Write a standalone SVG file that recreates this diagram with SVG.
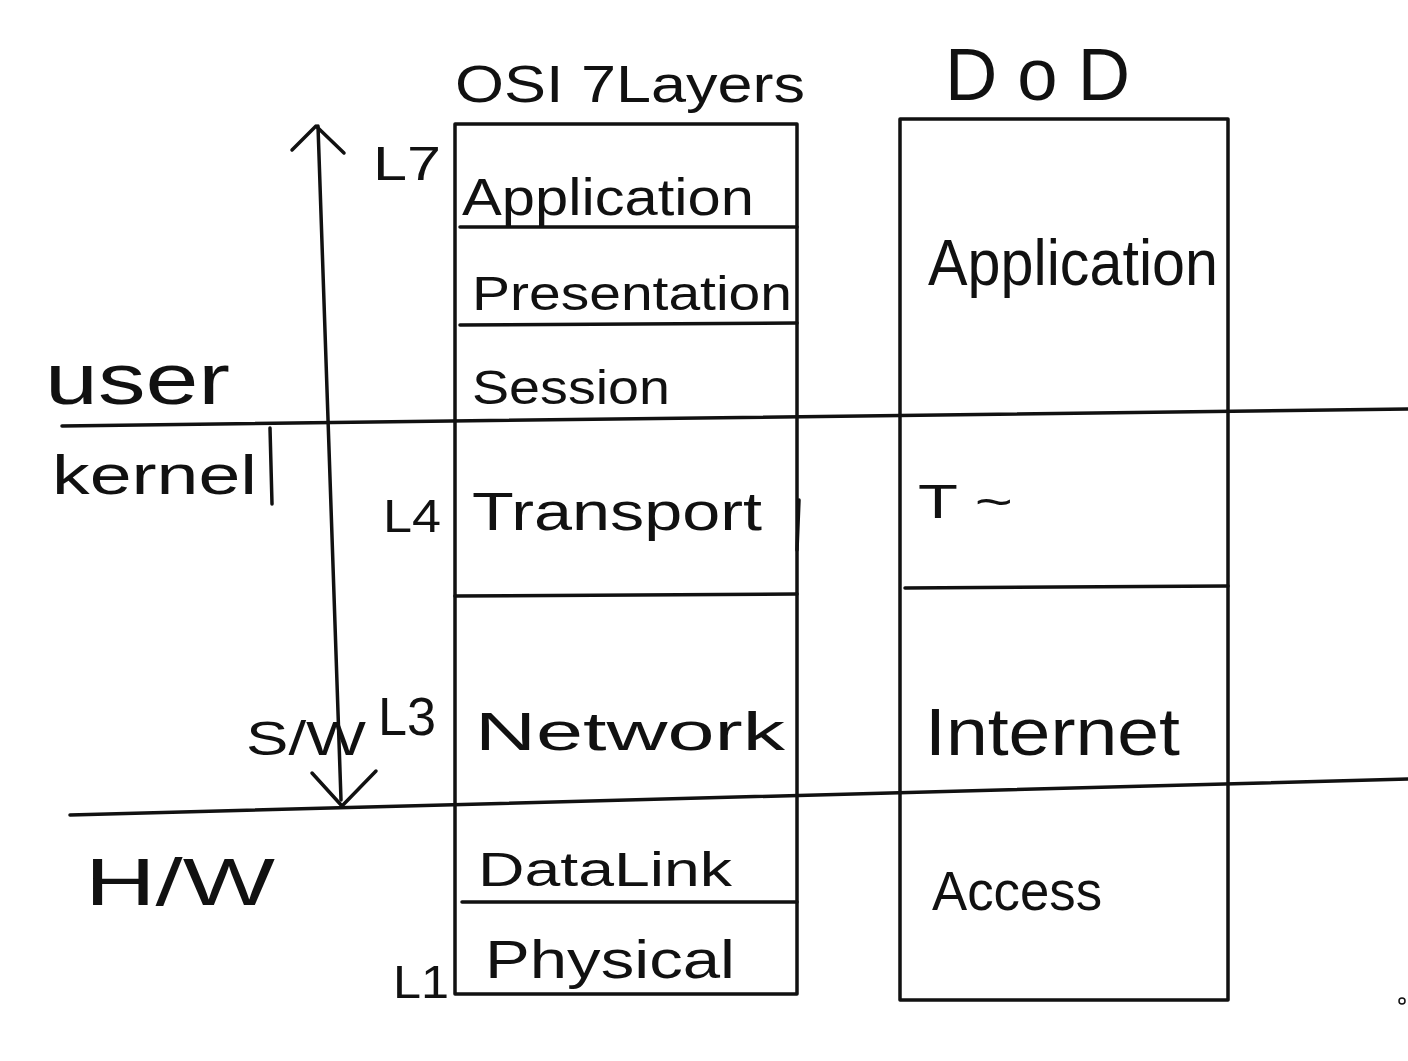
<svg xmlns="http://www.w3.org/2000/svg" width="1408" height="1061" viewBox="0 0 1408 1061">
<style>
.ln{stroke:#111;stroke-width:3.5;fill:none;stroke-linecap:round;stroke-linejoin:round}
.t{font-family:"Liberation Sans","DejaVu Sans",sans-serif;fill:#111}
</style>
<rect width="1408" height="1061" fill="#fff"/>
<g id="titles">
<text class="t" x="455" y="102" font-size="52" textLength="350" lengthAdjust="spacingAndGlyphs">OSI 7Layers</text>
<text class="t" x="945" y="100" font-size="74" textLength="185" lengthAdjust="spacingAndGlyphs">D o D</text>
</g>
<g id="osi">
<rect class="ln" x="455" y="124" width="342" height="870"/>
<line class="ln" x1="460" y1="227" x2="797" y2="227"/>
<line class="ln" x1="460" y1="325" x2="797" y2="323"/>
<line class="ln" x1="455" y1="596" x2="797" y2="594"/>
<line class="ln" x1="462" y1="902" x2="797" y2="902"/>
<line class="ln" x1="799" y1="500" x2="797" y2="550"/>
<text class="t" x="462" y="215" font-size="52" textLength="292" lengthAdjust="spacingAndGlyphs">Application</text>
<text class="t" x="472" y="310" font-size="48" textLength="320" lengthAdjust="spacingAndGlyphs">Presentation</text>
<text class="t" x="472" y="404" font-size="48" textLength="198" lengthAdjust="spacingAndGlyphs">Session</text>
<text class="t" x="472" y="530" font-size="54" textLength="290" lengthAdjust="spacingAndGlyphs">Transport</text>
<text class="t" x="475" y="750" font-size="54" textLength="310" lengthAdjust="spacingAndGlyphs">Network</text>
<text class="t" x="478" y="886" font-size="48" textLength="254" lengthAdjust="spacingAndGlyphs">DataLink</text>
<text class="t" x="485" y="978" font-size="54" textLength="250" lengthAdjust="spacingAndGlyphs">Physical</text>
<text class="t" x="373" y="180" font-size="48" textLength="68" lengthAdjust="spacingAndGlyphs">L7</text>
<text class="t" x="383" y="532" font-size="46" textLength="58" lengthAdjust="spacingAndGlyphs">L4</text>
<text class="t" x="378" y="735" font-size="54" textLength="58" lengthAdjust="spacingAndGlyphs">L3</text>
<text class="t" x="393" y="998" font-size="46" textLength="56" lengthAdjust="spacingAndGlyphs">L1</text>
</g>
<g id="dod">
<rect class="ln" x="900" y="119" width="328" height="881"/>
<line class="ln" x1="905" y1="588" x2="1228" y2="586"/>
<text class="t" x="928" y="285" font-size="64" textLength="290" lengthAdjust="spacingAndGlyphs">Application</text>
<text class="t" x="918" y="518" font-size="48" textLength="95" lengthAdjust="spacingAndGlyphs">T ~</text>
<text class="t" x="925" y="755" font-size="66" textLength="255" lengthAdjust="spacingAndGlyphs">Internet</text>
<text class="t" x="932" y="910" font-size="56" textLength="170" lengthAdjust="spacingAndGlyphs">Access</text>
</g>
<g id="domains">
<text class="t" x="45" y="404" font-size="72" textLength="185" lengthAdjust="spacingAndGlyphs">user</text>
<text class="t" x="52" y="494" font-size="56" textLength="205" lengthAdjust="spacingAndGlyphs">kernel</text>
<line class="ln" x1="270" y1="428" x2="272" y2="504"/>
<text class="t" x="85" y="905" font-size="66" textLength="190" lengthAdjust="spacingAndGlyphs">H/W</text>
<text class="t" x="246" y="755" font-size="48" textLength="120" lengthAdjust="spacingAndGlyphs">S/W</text>
</g>
<g id="connectors">
<line class="ln" x1="62" y1="426" x2="1408" y2="409"/>
<line class="ln" x1="70" y1="815" x2="1408" y2="779"/>
<line class="ln" x1="318" y1="126" x2="341" y2="800"/>
<polyline class="ln" points="292,150 316,126 344,153"/>
<polyline class="ln" points="312,773 342,806 376,771"/>
</g>
<circle cx="1402" cy="1001" r="3" fill="none" stroke="#111" stroke-width="1.5"/>
</svg>
